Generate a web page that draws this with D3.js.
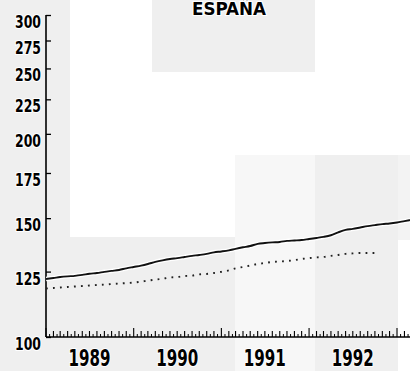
<!DOCTYPE html>
<html>
<head>
<meta charset="utf-8">
<script src="https://cdn.jsdelivr.net/npm/d3@7/dist/d3.min.js"></script>
<style>
  html, body { margin: 0; padding: 0; background: #fff; }
  svg { display: block; }
  text { font-family: "DejaVu Sans Condensed", "Liberation Sans", sans-serif; fill: #000; }
</style>
</head>
<body>
<svg id="chart" width="410" height="371"></svg>
<script>
// ---- data ----
const title = "ESPAÑA";
const startMonth = "1989-01";
// monthly index values (solid series), Jan 1989 .. Mar 1993
const seriesA = [121.9,122.3,122.7,123.0,123.2,123.6,124.1,124.4,124.9,125.3,125.7,126.4,
                 127.0,127.6,128.3,129.2,129.9,130.5,130.9,131.4,131.9,132.3,132.8,133.5,
                 133.9,134.4,135.1,135.8,136.4,137.4,137.8,138.1,138.3,138.8,139.0,139.2,
                 139.7,140.2,140.7,141.5,142.9,144.1,144.6,145.3,146.0,146.5,147.0,147.3,
                 147.8,148.5,149.1];
// monthly index values (dotted series), Jan 1989 .. Oct 1992
const seriesB = [118.0,118.2,118.4,118.6,118.8,119.0,119.2,119.4,119.6,119.8,120.0,120.2,
                 120.4,120.8,121.2,121.6,122.0,122.5,122.7,123.1,123.3,123.8,124.0,124.4,
                 124.9,125.5,126.4,127.0,127.6,128.3,128.7,129.2,129.4,129.6,130.0,130.5,
                 130.9,131.2,131.4,131.9,132.3,132.8,133.0,133.2,133.2,133.2];
const yTicks = [100,125,150,175,200,225,250,275,300];
const yearLabels = ["1989","1990","1991","1992"];

// ---- layout (background panels of the scanned page) ----
const panels = [
  {x:70,  y:0,   w:82,  h:237, c:"#ffffff"},
  {x:152, y:72,  w:83,  h:165, c:"#ffffff"},
  {x:235, y:72,  w:175, h:83,  c:"#ffffff"},
  {x:315, y:0,   w:95,  h:72,  c:"#ffffff"},
  {x:235, y:155, w:80,  h:216, c:"#f7f7f7"},
  {x:398, y:155, w:12,  h:85,  c:"#f3f3f3"},
  {x:398, y:240, w:12,  h:131, c:"#ffffff"}
];

const svg = d3.select("#chart");
svg.append("rect").attr("width",410).attr("height",371).attr("fill","#efefef");
svg.append("g").selectAll("rect").data(panels).join("rect")
  .attr("x",d=>d.x).attr("y",d=>d.y).attr("width",d=>d.w).attr("height",d=>d.h).attr("fill",d=>d.c);

const parse = d3.timeParse("%Y-%m");
const t0 = parse(startMonth);
const monthDate = i => d3.timeMonth.offset(t0, i);

const x = d3.scaleTime().domain([parse("1989-01"), parse("1993-01")]).range([46, 397]);
const y = d3.scaleLog().domain([100, 300]).range([337, 15]);

// y axis
const yAxis = d3.axisRight(y).tickValues(yTicks).tickSize(5).tickFormat("");
const gy = svg.append("g").attr("transform","translate(46,0)").call(yAxis);
gy.select(".domain").attr("d","M0,15V337").attr("stroke","#000").attr("stroke-width",1.6);
gy.selectAll(".tick line").attr("stroke","#000").attr("stroke-width",1.3);

svg.append("g").selectAll("text").data(yTicks).join("text")
  .attr("x",41).attr("y",d=>y(d)+13)
  .attr("text-anchor","end")
  .attr("font-size",17).attr("font-weight","bold")
  .attr("textLength",26).attr("lengthAdjust","spacingAndGlyphs")
  .attr("stroke","#fff").attr("stroke-width",2).attr("paint-order","stroke")
  .text(d=>d);

// x axis: monthly ticks, half-month small ticks, year ticks
const xEnd = 410;
const gx = svg.append("g");
gx.append("line").attr("x1",46).attr("x2",xEnd).attr("y1",337).attr("y2",337)
  .attr("stroke","#000").attr("stroke-width",1.6);
const months = d3.timeMonth.range(parse("1989-01"), parse("1993-03"));
gx.selectAll("line.m").data(months).join("line").attr("class","m")
  .attr("x1",d=>x(d)).attr("x2",d=>x(d)).attr("y1",337)
  .attr("y2",d=>d.getMonth()===0 ? 328 : 331)
  .attr("stroke","#000").attr("stroke-width",1.1);
gx.selectAll("line.h").data(months).join("line").attr("class","h")
  .attr("x1",d=>x(d3.timeDay.offset(d,15))).attr("x2",d=>x(d3.timeDay.offset(d,15)))
  .attr("y1",337).attr("y2",334)
  .attr("stroke","#000").attr("stroke-width",1);

svg.append("g").selectAll("text").data(yearLabels).join("text")
  .attr("x",d=>x(parse(d+"-07")) - 21)
  .attr("y",366)
  .attr("font-size",23)
  .attr("font-weight","bold")
  .attr("textLength",42).attr("lengthAdjust","spacingAndGlyphs")
  .attr("stroke","#fff").attr("stroke-width",2).attr("paint-order","stroke")
  .text(d=>d);

// lines
const line = d3.line().x((d,i)=>x(monthDate(i))).y(d=>y(d)).curve(d3.curveMonotoneX);
svg.append("clipPath").attr("id","plot").append("rect")
  .attr("x",46).attr("y",0).attr("width",364).attr("height",337);
const plot = svg.append("g").attr("clip-path","url(#plot)");
plot.append("path").datum(seriesA).attr("d",line)
  .attr("fill","none").attr("stroke","#fff").attr("stroke-width",4.5);
plot.append("path").datum(seriesA).attr("d",line)
  .attr("fill","none").attr("stroke","#111").attr("stroke-width",1.9);
plot.append("path").datum(seriesB).attr("d",line)
  .attr("fill","none").attr("stroke","#222").attr("stroke-width",1.9)
  .attr("stroke-dasharray","1.8 5.2");

// title
svg.append("text").attr("x",229).attr("y",15)
  .attr("text-anchor","middle").attr("font-size",17).attr("font-weight","bold")
  .attr("textLength",74).attr("lengthAdjust","spacingAndGlyphs")
  .attr("stroke","#fff").attr("stroke-width",2).attr("paint-order","stroke")
  .text(title);
</script>
</body>
</html>
